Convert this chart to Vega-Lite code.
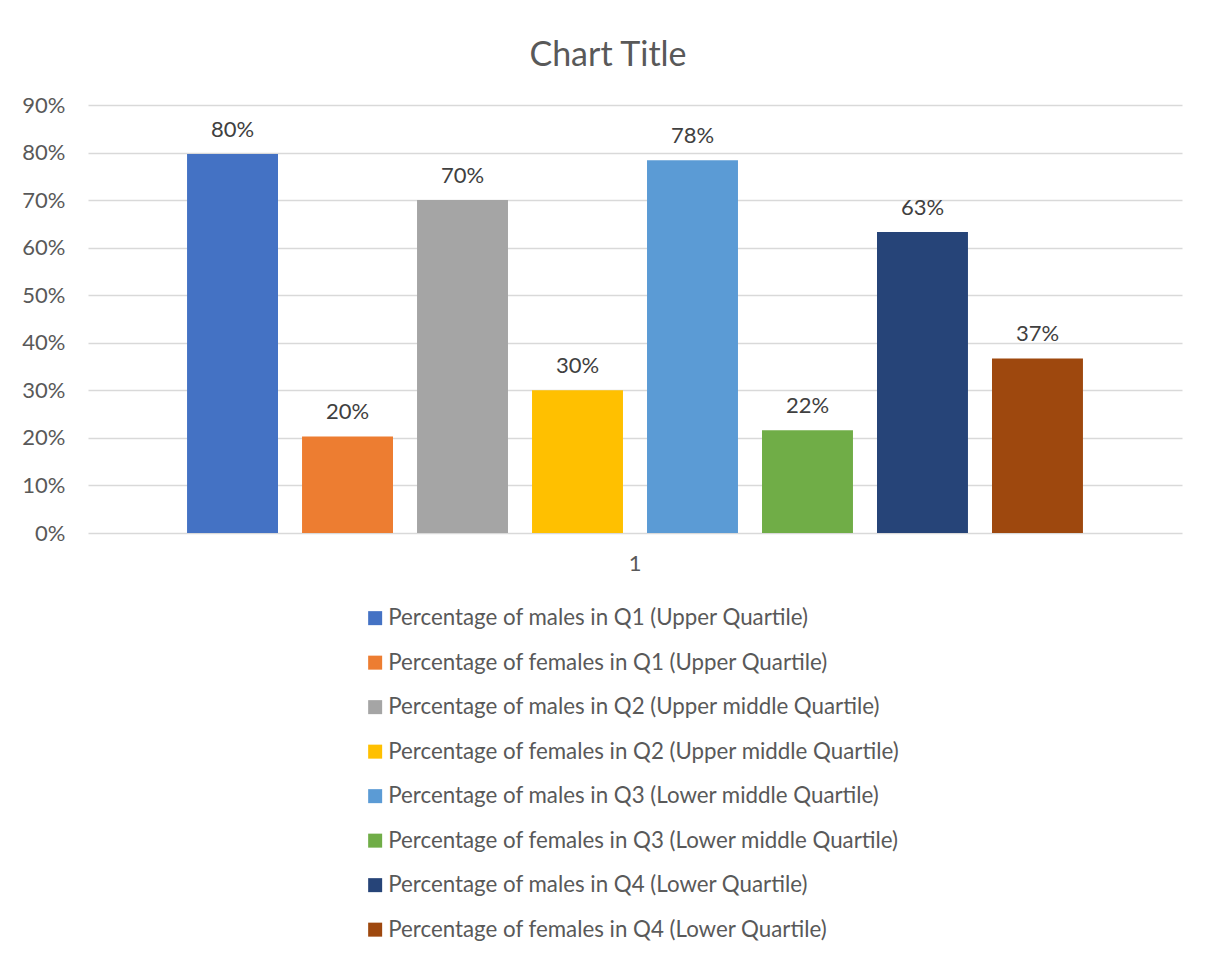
{
  "$schema": "https://vega.github.io/schema/vega-lite/v6.json",
  "autosize": {"type": "none"},
  "width": 1094,
  "height": 428,
  "padding": {"left": 88, "top": 105, "right": 23, "bottom": 427},
  "background": "white",
  "title": {
    "text": "Chart Title",
    "font": "Lato",
    "fontSize": 34,
    "fontWeight": "normal",
    "color": "#595959",
    "anchor": "middle",
    "baseline": "alphabetic",
    "dx": -27,
    "dy": 48,
    "offset": 42
  },
  "data": {
    "values": [
      {"group": "1", "series": "Percentage of males in Q1 (Upper Quartile)", "value": 0.797},
      {"group": "1", "series": "Percentage of females in Q1 (Upper Quartile)", "value": 0.203},
      {"group": "1", "series": "Percentage of males in Q2 (Upper middle Quartile)", "value": 0.70},
      {"group": "1", "series": "Percentage of females in Q2 (Upper middle Quartile)", "value": 0.30},
      {"group": "1", "series": "Percentage of males in Q3 (Lower middle Quartile)", "value": 0.784},
      {"group": "1", "series": "Percentage of females in Q3 (Lower middle Quartile)", "value": 0.216},
      {"group": "1", "series": "Percentage of males in Q4 (Lower Quartile)", "value": 0.633},
      {"group": "1", "series": "Percentage of females in Q4 (Lower Quartile)", "value": 0.367}
    ]
  },
  "encoding": {
    "x": {
      "field": "group",
      "type": "nominal",
      "scale": {"paddingInner": 0, "paddingOuter": 0.0946},
      "axis": {
        "title": null,
        "labelAngle": 0,
        "labelFont": "Lato",
        "labelFontSize": 22,
        "labelColor": "#595959",
        "labelPadding": 20,
        "ticks": false,
        "domain": false,
        "grid": false
      }
    },
    "xOffset": {
      "field": "series",
      "type": "nominal",
      "sort": null,
      "scale": {"paddingInner": 0.209, "paddingOuter": 0.1045}
    },
    "y": {
      "field": "value",
      "type": "quantitative",
      "scale": {"domain": [0, 0.9], "nice": false},
      "axis": {
        "title": null,
        "values": [0, 0.1, 0.2, 0.3, 0.4, 0.5, 0.6, 0.7, 0.8, 0.9],
        "format": ".0%",
        "labelFont": "Lato",
        "labelFontSize": 22,
        "labelColor": "#595959",
        "labelPadding": 23,
        "ticks": false,
        "domain": false,
        "grid": true,
        "gridColor": "#d9d9d9",
        "gridWidth": 1.3
      }
    }
  },
  "layer": [
    {
      "mark": {"type": "bar"},
      "encoding": {
        "color": {
          "field": "series",
          "type": "nominal",
          "sort": null,
          "scale": {
            "range": ["#4472C4", "#ED7D31", "#A5A5A5", "#FFC000", "#5B9BD5", "#70AD47", "#264478", "#9E480E"]
          },
          "legend": {
            "title": null,
            "orient": "none",
            "direction": "vertical",
            "legendX": 276,
            "legendY": 502,
            "padding": 0,
            "symbolType": "square",
            "symbolSize": 196,
            "symbolStrokeWidth": 0,
            "symbolOpacity": 1,
            "labelFont": "Lato",
            "labelFontSize": 22.3,
            "labelColor": "#595959",
            "labelOffset": 2,
            "labelLimit": 0,
            "rowPadding": 21.5
          }
        }
      }
    },
    {
      "mark": {
        "type": "text",
        "baseline": "alphabetic",
        "dy": -17,
        "font": "Lato",
        "fontSize": 22,
        "color": "#404040"
      },
      "encoding": {
        "text": {"field": "value", "type": "quantitative", "format": ".0%"}
      }
    }
  ],
  "config": {
    "view": {"stroke": null}
  }
}
